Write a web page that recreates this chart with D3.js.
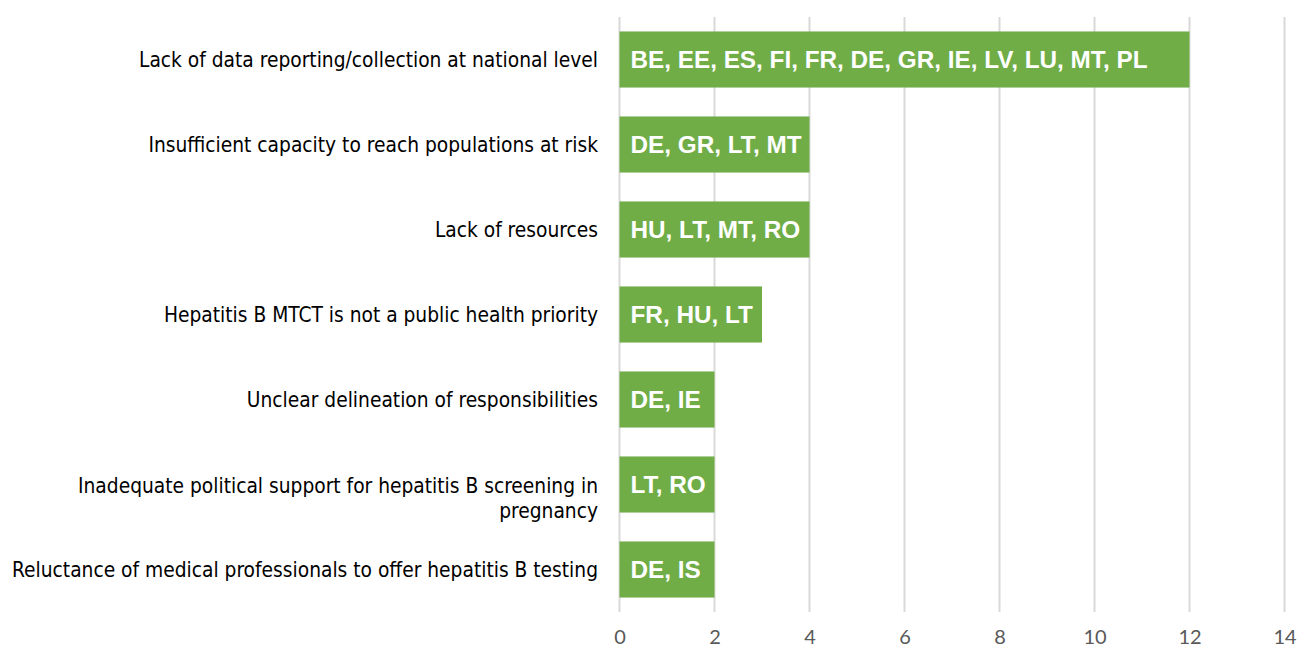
<!DOCTYPE html>
<html><head><meta charset="utf-8">
<script src="https://cdn.jsdelivr.net/npm/d3@7"></script>
<style>body{margin:0;background:#fff;}</style>
</head><body>
<svg id="c" width="1297" height="650"></svg>
<script>
const categories = [
  ["Lack of data reporting/collection at national level"],
  ["Insufficient capacity to reach populations at risk"],
  ["Lack of resources"],
  ["Hepatitis B MTCT is not a public health priority"],
  ["Unclear delineation of responsibilities"],
  ["Inadequate political support for hepatitis B screening in", "pregnancy"],
  ["Reluctance of medical professionals to offer hepatitis B testing"]
];
const values = [12, 4, 4, 3, 2, 2, 2];
const barLabels = [
  "BE, EE, ES, FI, FR, DE, GR, IE, LV, LU, MT, PL",
  "DE, GR, LT, MT",
  "HU, LT, MT, RO",
  "FR, HU, LT",
  "DE, IE",
  "LT, RO",
  "DE, IS"
];
const tickValues = [0, 2, 4, 6, 8, 10, 12, 14];

const svg = d3.select("#c");
const x = d3.scaleLinear().domain([0, 14]).range([619.5, 1284.5]);
const y = d3.scaleBand().domain(d3.range(categories.length)).range([17, 612]).paddingInner(0.34).paddingOuter(0.17);

// gridlines
svg.append("g").selectAll("line").data(tickValues).join("line")
  .attr("x1", d => x(d)).attr("x2", d => x(d))
  .attr("y1", 17).attr("y2", 612)
  .attr("stroke", "#d9d9d9").attr("stroke-width", 2);

// bars
svg.append("g").selectAll("rect").data(values).join("rect")
  .attr("x", x(0)).attr("y", (d, i) => y(i))
  .attr("width", d => x(d) - x(0)).attr("height", y.bandwidth())
  .attr("fill", "#70ad47");

// bar labels
svg.append("g").selectAll("text").data(barLabels).join("text")
  .attr("x", x(0) + 11).attr("y", (d, i) => y(i) + y.bandwidth() / 2 + 8.5)
  .attr("fill", "#fff").attr("font-family", "Liberation Sans, Arial, sans-serif")
  .attr("font-weight", "bold").attr("font-size", 24.3)
  .text(d => d);

// category labels
const cat = svg.append("g");
categories.forEach((lines, i) => {
  const cy = y(i) + y.bandwidth() / 2;
  const t = cat.append("text").attr("text-anchor", "end")
    .attr("font-family", "DejaVu Sans Condensed, DejaVu Sans, sans-serif")
    .attr("font-size", 20.75).attr("fill", "#000");
  lines.forEach((l, j) => {
    t.append("tspan").attr("x", 598).attr("y", cy + 7.5 + (lines.length > 1 ? 1 : 0) + j * 25).text(l);
  });
});

// x axis tick labels
const xAxis = d3.axisBottom(x).tickValues(tickValues).tickSize(0).tickPadding(0);
const ax = svg.append("g").attr("transform", "translate(0,630)").call(xAxis);
ax.select(".domain").remove();
ax.selectAll("text").attr("font-family", "Lato, Open Sans, sans-serif").attr("font-size", 20).attr("fill", "#595959");
</script>
</body></html>
